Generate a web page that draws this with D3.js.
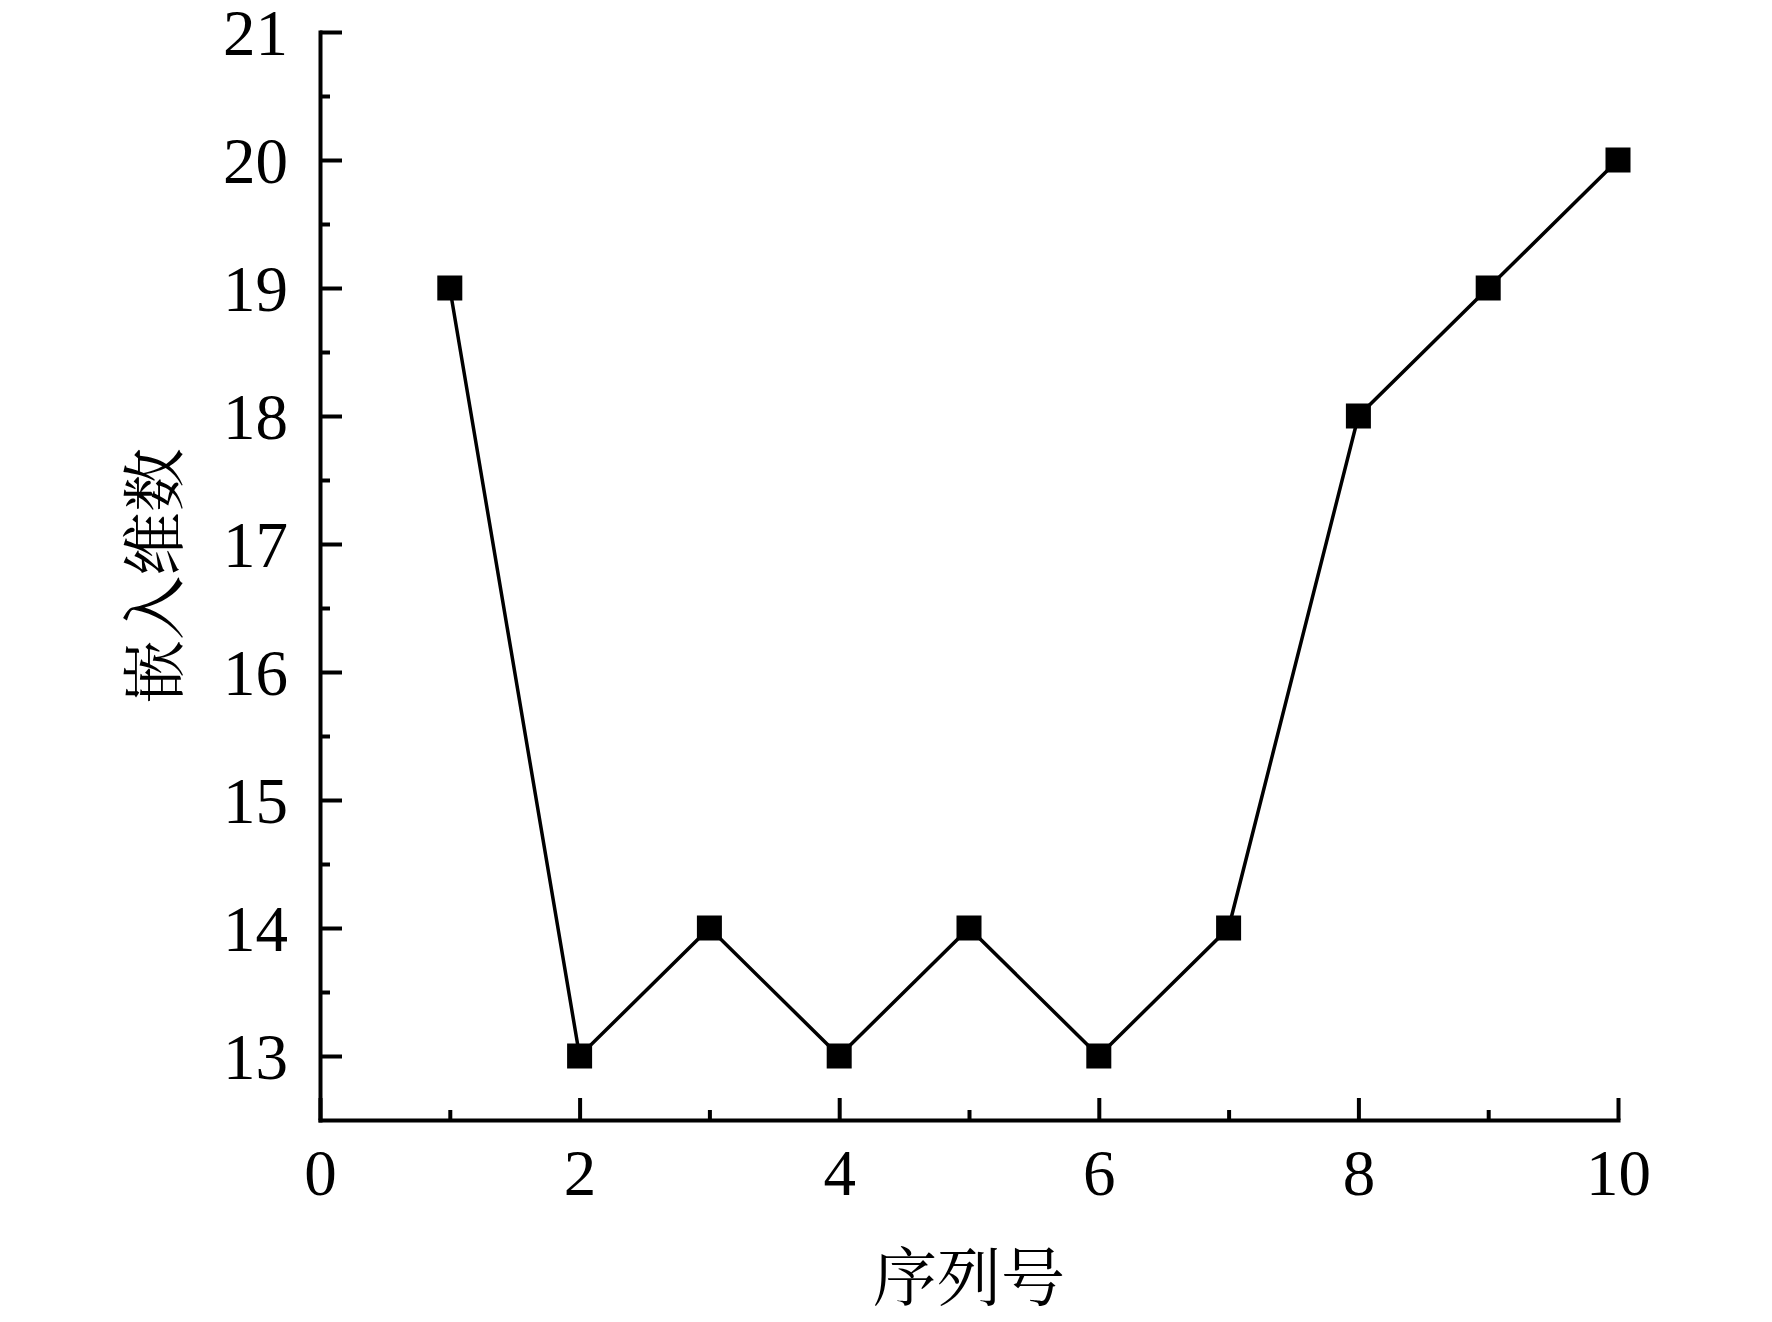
<!DOCTYPE html>
<html>
<head>
  <meta charset="utf-8">
  <title>嵌入维数</title>
  <style>
    body { margin: 0; background: #fff; }
  </style>
</head>
<body>
  <script src="https://cdn.jsdelivr.net/npm/d3@7"></script>
  <script>
    // 数据
    var seqNo = [1, 2, 3, 4, 5, 6, 7, 8, 9, 10]
    var embedDim = [19, 13, 14, 13, 14, 13, 14, 18, 19, 20]
    var xTicks = [0, 2, 4, 6, 8, 10]
    var xMinor = [1, 3, 5, 7, 9]
    var yTicks = [13, 14, 15, 16, 17, 18, 19, 20, 21]
    var yMinor = [13.5, 14.5, 15.5, 16.5, 17.5, 18.5, 19.5, 20.5]
    var xTitle = "序列号"
    var yTitle = "嵌入维数"

    var width = 1772, height = 1322
    var margin = { left: 320, top: 32, right: 154, bottom: 202 }
    var serif = "'Liberation Serif', 'Times New Roman', serif"
    var cjk = "'Noto Serif CJK SC', 'Noto Sans CJK SC', serif"

    var svg = d3.select("body").append("svg")
      .attr("width", width)
      .attr("height", height)

    var x = d3.scaleLinear().domain([0, 10]).range([margin.left, width - margin.right])
    var y = d3.scaleLinear().domain([12.5, 21]).range([height - margin.bottom, margin.top])

    var axisW = 4

    // x 轴
    var gx = svg.append("g").attr("transform", `translate(0,${y(12.5)})`)
    gx.call(d3.axisBottom(x).tickValues(xTicks).tickSizeInner(-22).tickSizeOuter(0).tickPadding(29))
    gx.append("g").call(d3.axisBottom(x).tickValues(xMinor).tickSizeInner(-10).tickSizeOuter(0).tickFormat(""))
      .select(".domain").remove()

    // y 轴
    var gy = svg.append("g").attr("transform", `translate(${x(0)},0)`)
    gy.call(d3.axisLeft(y).tickValues(yTicks).tickSizeInner(-22).tickSizeOuter(0).tickPadding(32))
    gy.append("g").call(d3.axisLeft(y).tickValues(yMinor).tickSizeInner(-10).tickSizeOuter(0).tickFormat(""))
      .select(".domain").remove()

    svg.selectAll(".domain").attr("stroke", "#000").attr("stroke-width", axisW).attr("stroke-linecap", "square")
    svg.selectAll(".tick line").attr("stroke", "#000").attr("stroke-width", axisW)
    svg.selectAll(".tick text")
      .style("font-family", serif)
      .attr("font-size", 65)
      .attr("fill", "#000")
    gx.selectAll(".tick text").attr("dy", "0.71em")
    gy.selectAll(".tick text").attr("dy", "0.34em")

    // 折线
    var pts = seqNo.map((d, i) => [d, embedDim[i]])
    svg.append("path")
      .datum(pts)
      .attr("fill", "none")
      .attr("stroke", "#000")
      .attr("stroke-width", 3.5)
      .attr("d", d3.line().x(d => x(d[0])).y(d => y(d[1])))

    var s = 25
    svg.selectAll("rect.pt")
      .data(pts)
      .enter()
      .append("rect")
      .attr("class", "pt")
      .attr("x", d => x(d[0]) - s / 2)
      .attr("y", d => y(d[1]) - s / 2)
      .attr("width", s)
      .attr("height", s)
      .attr("fill", "#000")

    // 标题
    svg.append("text")
      .text(xTitle)
      .attr("x", x(5))
      .attr("y", 1300)
      .attr("text-anchor", "middle")
      .style("font-family", cjk)
      .attr("font-size", 64)
      .attr("fill", "#000")

    svg.append("text")
      .text(yTitle)
      .attr("transform", `translate(177,${y(16.75)}) rotate(-90)`)
      .attr("text-anchor", "middle")
      .style("font-family", cjk)
      .attr("font-size", 64)
      .attr("fill", "#000")
  </script>
</body>
</html>
